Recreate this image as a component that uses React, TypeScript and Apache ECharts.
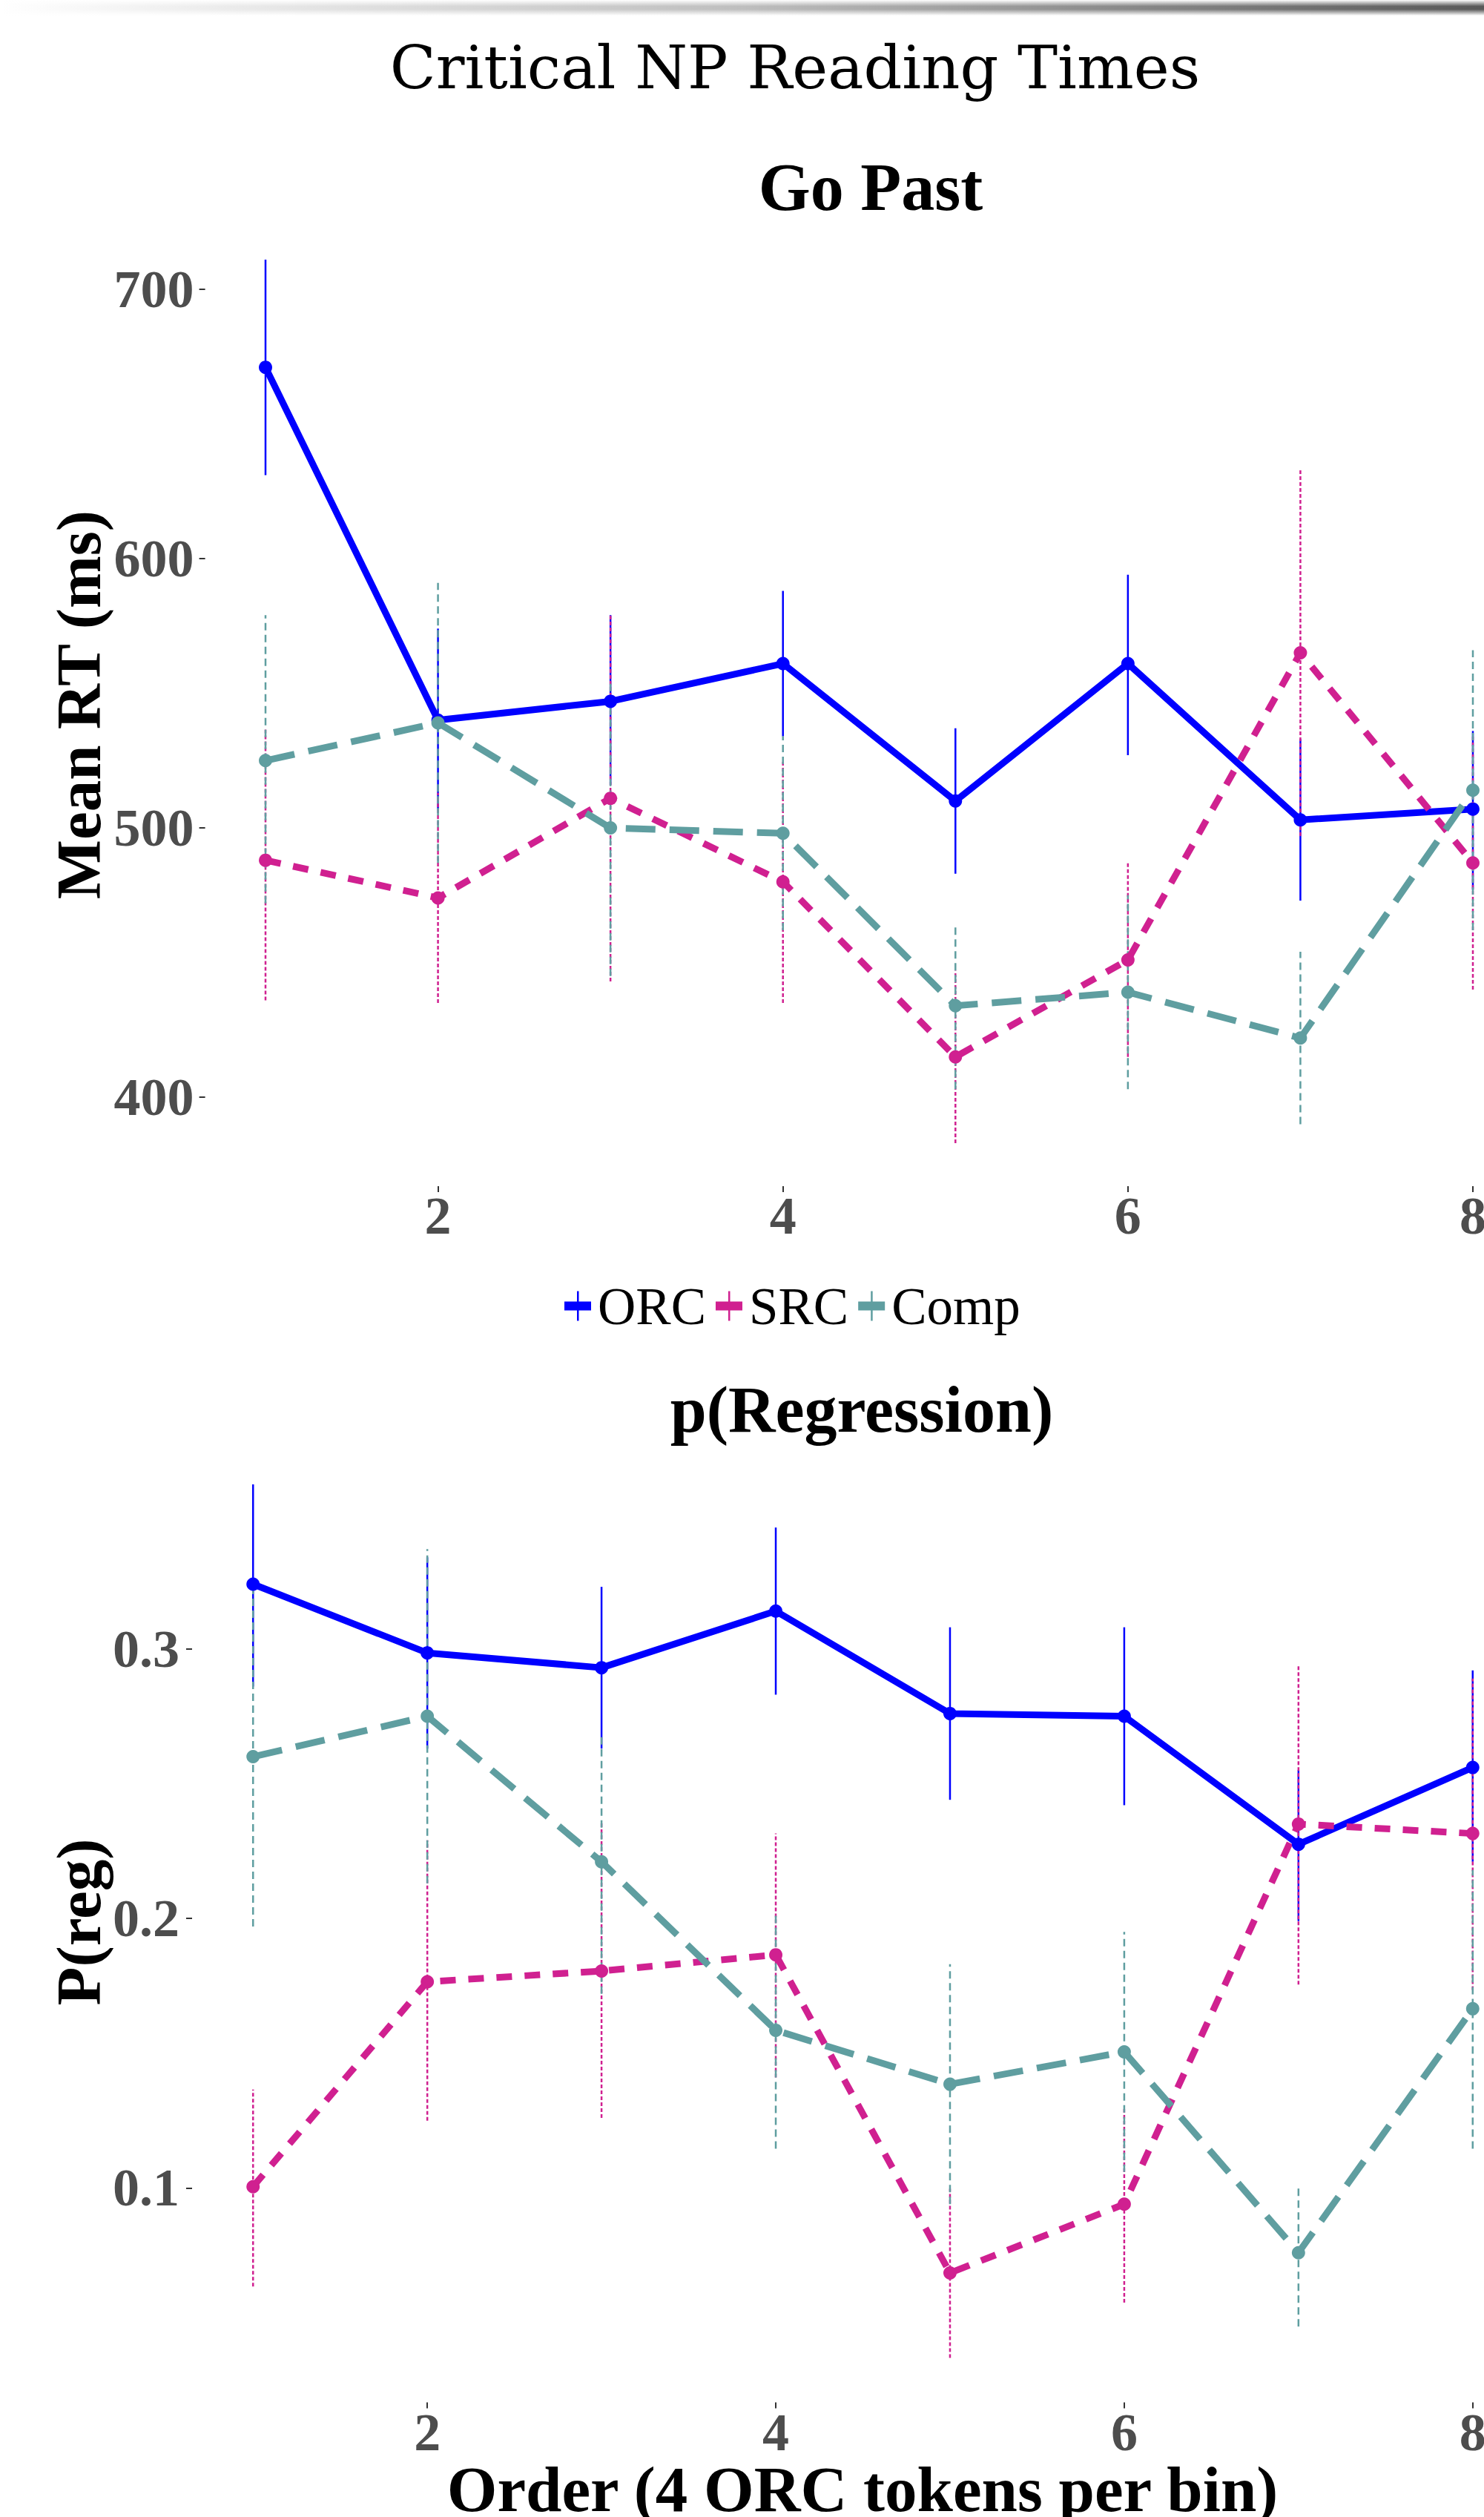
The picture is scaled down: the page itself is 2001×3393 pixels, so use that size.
import React, { useEffect, useRef } from "react";
import * as echarts from "echarts";

// ---------- data ----------
const orders = [1, 2, 3, 4, 5, 6, 7, 8];
const xTicks = [2, 4, 6, 8];

// Go Past (ms)
const gpTicks = [400, 500, 600, 700];
const gpORC = [671, 540, 547, 561, 510, 561, 503, 507];
const gpORCLo = [631, 507, 516, 534, 483, 527, 473, 477];
const gpORCHi = [711, 574, 579, 588, 537, 594, 533, 536];
const gpSRC = [488, 474, 511, 480, 415, 451, 565, 487];
const gpSRCLo = [436, 435, 443, 435, 383, 415, 497, 440];
const gpSRCHi = [537, 513, 579, 525, 447, 487, 633, 534];
const gpComp = [525, 539, 500, 498, 434, 439, 422, 514];
const gpCompLo = [472, 487, 445, 462, 403, 403, 390, 462];
const gpCompHi = [579, 591, 555, 534, 464, 475, 454, 566];

// p(Regression)
const prTicks = [0.1, 0.2, 0.3];
const prORC = [0.324, 0.2985, 0.293, 0.314, 0.276, 0.275, 0.2275, 0.256];
const prORCLo = [0.286, 0.263, 0.263, 0.283, 0.244, 0.242, 0.199, 0.221];
const prORCHi = [0.361, 0.334, 0.323, 0.345, 0.308, 0.308, 0.255, 0.292];
const prSRC = [0.1005, 0.1765, 0.1805, 0.1865, 0.0685, 0.094, 0.235, 0.2315];
const prSRCLo = [0.0635, 0.125, 0.126, 0.141, 0.037, 0.0575, 0.1755, 0.1735];
const prSRCHi = [0.1365, 0.229, 0.236, 0.2315, 0.0997, 0.13, 0.294, 0.289];
const prComp = [0.26, 0.275, 0.221, 0.1585, 0.1385, 0.1505, 0.076, 0.1665];
const prCompLo = [0.197, 0.213, 0.172, 0.1146, 0.094, 0.106, 0.0486, 0.1146];
const prCompHi = [0.323, 0.337, 0.268, 0.2025, 0.183, 0.195, 0.101, 0.218];

const groups = ["ORC", "SRC", "Comp"];

// ---------- styles ----------
const colors: Record<string, string> = { ORC: "#0000FF", SRC: "#D02090", Comp: "#5F9EA0" };
const lineDash: Record<string, any> = { ORC: "solid", SRC: [21, 17], Comp: [40, 19] };
const errDash: Record<string, any> = { ORC: null, SRC: [5, 3], Comp: [10, 6] };
const SERIF = '"Liberation Serif", "Times New Roman", serif';

function pairs(xs: number[], ys: number[]) {
  return xs.map((x, i) => [x, ys[i]]);
}
function triples(xs: number[], lo: number[], hi: number[]) {
  return xs.map((x, i) => [x, lo[i], hi[i]]);
}

function lineSeries(name: string, idx: number, ys: number[]) {
  return {
    type: "line",
    name,
    xAxisIndex: idx,
    yAxisIndex: idx,
    data: pairs(orders, ys),
    color: colors[name],
    symbol: "circle",
    symbolSize: 18,
    showSymbol: true,
    clip: false,
    lineStyle: { width: 9, type: lineDash[name], color: colors[name], cap: "butt" },
    itemStyle: { color: colors[name] },
    z: 3,
  };
}

function errSeries(name: string, idx: number, lo: number[], hi: number[]) {
  return {
    type: "custom",
    name: name + " error",
    xAxisIndex: idx,
    yAxisIndex: idx,
    data: triples(orders, lo, hi),
    encode: { x: 0, y: [1, 2] },
    z: 2,
    renderItem: (params: any, api: any) => {
      const x = api.value(0);
      const p1 = api.coord([x, api.value(1)]);
      const p2 = api.coord([x, api.value(2)]);
      const style: any = { stroke: colors[name], lineWidth: 2.5, fill: null };
      if (errDash[name]) style.lineDash = errDash[name];
      return {
        type: "line",
        shape: { x1: p1[0], y1: p1[1], x2: p2[0], y2: p2[1] },
        style,
      };
    },
  };
}

const tickLabel = {
  fontFamily: SERIF,
  fontWeight: "bold",
  fontSize: 72,
  color: "#4d4d4d",
};

function xAxis(idx: number, margin: number) {
  return {
    type: "value",
    gridIndex: idx,
    min: 0.65,
    max: 8.35,
    axisLine: { show: false },
    splitLine: { show: false },
    axisTick: { show: true, length: 8, customValues: xTicks, lineStyle: { color: "#333", width: 2 } },
    axisLabel: { ...tickLabel, margin, customValues: xTicks, hideOverlap: false },
  };
}

function yAxis(idx: number, min: number, max: number, ticks: number[], margin: number) {
  return {
    type: "value",
    gridIndex: idx,
    min,
    max,
    axisLine: { show: false },
    splitLine: { show: false },
    axisTick: { show: true, length: 8, customValues: ticks, lineStyle: { color: "#333", width: 2 } },
    axisLabel: { ...tickLabel, margin, customValues: ticks },
  };
}

const iconPath = "path://M0,14 L36,14 L36,26 L0,26 Z M17,0 L19.5,0 L19.5,40 L17,40 Z";

export default function App() {
  const ref = useRef<HTMLDivElement>(null);
  useEffect(() => {
    if (!ref.current) return;
    const chart = echarts.init(ref.current, null, { renderer: "svg" });
    const series: any[] = [];
    const top = [
      ["ORC", gpORC, gpORCLo, gpORCHi],
      ["SRC", gpSRC, gpSRCLo, gpSRCHi],
      ["Comp", gpComp, gpCompLo, gpCompHi],
    ] as any[];
    const bot = [
      ["ORC", prORC, prORCLo, prORCHi],
      ["SRC", prSRC, prSRCLo, prSRCHi],
      ["Comp", prComp, prCompLo, prCompHi],
    ] as any[];
    top.forEach(([n, m, lo, hi]) => series.push(errSeries(n, 0, lo, hi)));
    bot.forEach(([n, m, lo, hi]) => series.push(errSeries(n, 1, lo, hi)));
    top.forEach(([n, m]) => series.push(lineSeries(n, 0, m)));
    bot.forEach(([n, m]) => series.push(lineSeries(n, 1, m)));

    const titleFont = { fontFamily: SERIF, fontWeight: "bold", fill: "#000" };

    chart.setOption({
      animation: false,
      backgroundColor: "#ffffff",
      grid: [
        {
          left: 276.6,
          width: 1790.8,
          top: 290,
          height: 1309,
          containLabel: false,
          outerBoundsMode: "none",
        },
        {
          left: 259,
          width: 1809,
          top: 1943.6,
          height: 1294.8,
          containLabel: false,
          outerBoundsMode: "none",
        },
      ],
      xAxis: [xAxis(0, 4), xAxis(1, 5)],
      yAxis: [
        yAxis(0, 367, 727.5, gpTicks, 15),
        yAxis(1, 0.0205, 0.3768, prTicks, 17),
      ],
      legend: {
        data: groups.map((g) => ({ name: g, icon: iconPath })),
        left: 756,
        top: 1720,
        itemWidth: 36,
        itemHeight: 40,
        itemGap: 13,
        selectedMode: false,
        textStyle: { fontFamily: SERIF, fontSize: 71, color: "#000", padding: [0, 0, 0, 4] },
      },
      series,
      graphic: [
        {
          type: "rect",
          shape: { x: 0, y: 0, width: 2001, height: 21 },
          style: {
            fill: new echarts.graphic.LinearGradient(0, 0, 1, 0, [
              { offset: 0, color: "rgba(70,70,70,0)" },
              { offset: 0.5, color: "rgba(70,70,70,0.35)" },
              { offset: 1, color: "rgba(70,70,70,0.9)" },
            ]),
          },
          silent: true,
        },
        {
          type: "rect",
          shape: { x: 0, y: 0, width: 2001, height: 21 },
          style: {
            fill: new echarts.graphic.LinearGradient(0, 0, 0, 1, [
              { offset: 0, color: "rgba(255,255,255,1)" },
              { offset: 0.4, color: "rgba(255,255,255,0)" },
              { offset: 0.6, color: "rgba(255,255,255,0)" },
              { offset: 1, color: "rgba(255,255,255,1)" },
            ]),
          },
          silent: true,
        },
        {
          type: "text",
          x: 1072,
          y: 91,
          style: {
            text: "Critical NP Reading Times",
            fontFamily: '"DejaVu Serif", serif',
            fontSize: 81,
            fontWeight: "normal",
            fill: "#000",
            align: "center",
            verticalAlign: "middle",
          },
        },
        {
          type: "text",
          x: 1174,
          y: 252,
          style: { text: "Go Past", ...titleFont, fontSize: 90, align: "center", verticalAlign: "middle" },
        },
        {
          type: "text",
          x: 1162,
          y: 1900,
          style: { text: "p(Regression)", ...titleFont, fontSize: 88, align: "center", verticalAlign: "middle" },
        },
        {
          type: "text",
          x: 106,
          y: 950,
          rotation: Math.PI / 2,
          style: { text: "Mean RT (ms)", ...titleFont, fontSize: 85, align: "center", verticalAlign: "middle" },
        },
        {
          type: "text",
          x: 106,
          y: 2591,
          rotation: Math.PI / 2,
          style: { text: "P(reg)", ...titleFont, fontSize: 85, align: "center", verticalAlign: "middle" },
        },
        {
          type: "text",
          x: 1163,
          y: 3355,
          style: {
            text: "Order (4 ORC tokens per bin)",
            ...titleFont,
            fontSize: 87,
            align: "center",
            verticalAlign: "middle",
          },
        },
      ],
    });
    return () => chart.dispose();
  }, []);

  return (
    <div
      ref={ref}
      style={{ position: "absolute", left: 0, top: 0, width: 2001, height: 3393, background: "#fff" }}
    />
  );
}
